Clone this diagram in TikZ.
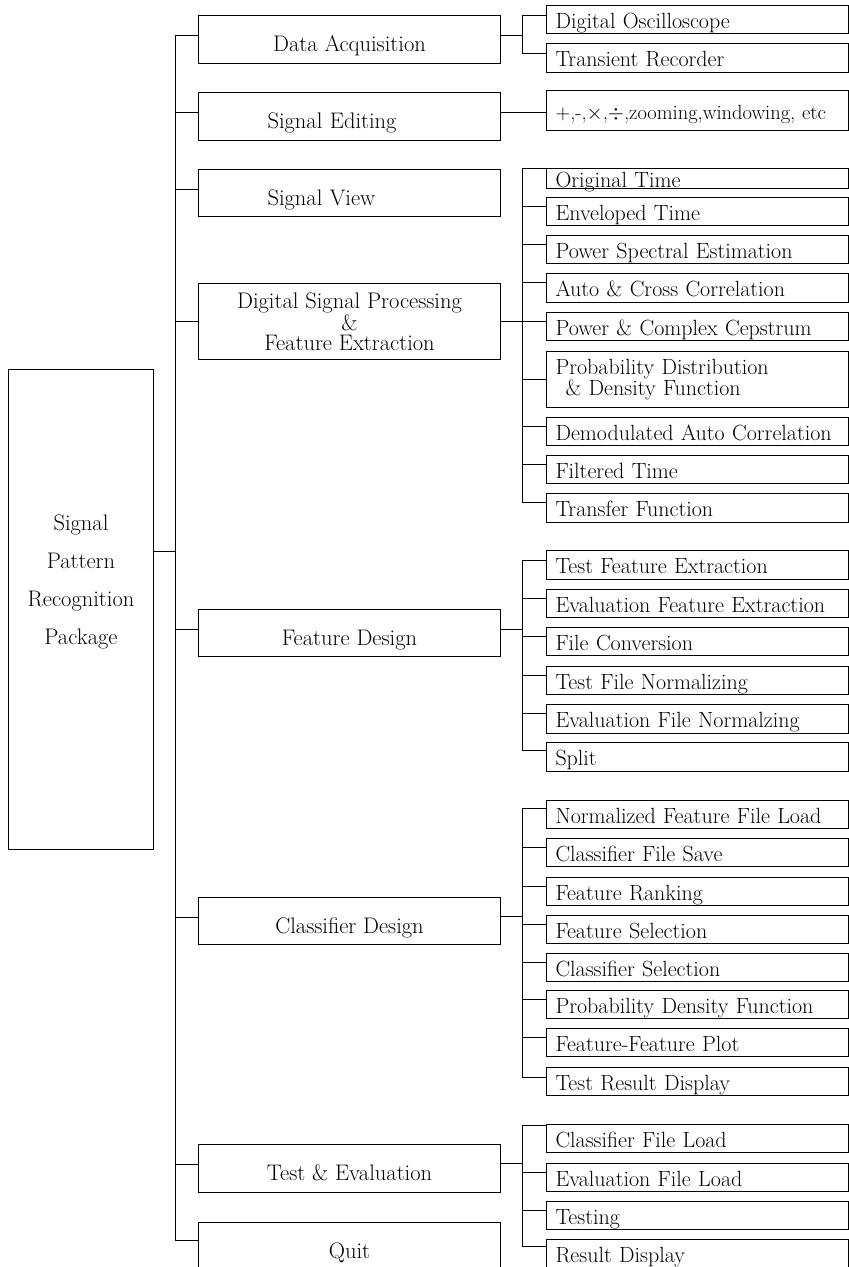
\documentclass[tikz,border=0pt]{standalone}
\usepackage{amsmath,amssymb}
\usepackage{tikz}

\begin{document}
\begin{tikzpicture}[x=1pt, y=-1pt, line width=1pt,
  every node/.style={font=\fontsize{22}{24}\selectfont},
  rootbox/.style={draw, anchor=north west, align=center,
                  minimum width=145pt, minimum height=480pt,
                  font=\fontsize{22.5}{38}\selectfont},
  menubox/.style={draw, anchor=north west, align=center,
                  minimum width=302pt, minimum height=48pt,
                  text height=24pt, text depth=0pt,
                  font=\fontsize{22.5}{24}\selectfont},
  leftmenu/.style={menubox, align=left, text width=164pt, inner xsep=69pt},
  leaf/.style={draw, anchor=north west, align=left,
               text width=284pt, inner xsep=9pt, inner ysep=0pt,
               minimum height=28pt, text height=18pt, text depth=1pt}
]
\useasboundingbox (0,0) rectangle (849,1267);

% package and main menu
\node[rootbox] (spr) at (8,369) {Signal\\Pattern\\Recognition\\Package\\[22pt]\mbox{}};
\node[menubox] (da) at (198,15)  {Data Acquisition};
\node[leftmenu] (se) at (198,92)  {Signal Editing};
\node[leftmenu, minimum height=47pt] (sv) at (198,169) {Signal View};
\node[draw, anchor=north west, align=center, minimum width=302pt,
      minimum height=76pt, font=\fontsize{22.5}{20}\selectfont] (dsp) at (198,283)
      {Digital Signal Processing\\\&\\Feature Extraction};
\node[menubox, minimum height=47pt] (fd) at (198,609) {Feature Design};
\node[menubox, minimum height=47pt] (cd) at (198,897) {Classifier Design};
\node[menubox] (te)   at (198,1144) {Test \& Evaluation};
\node[menubox] (quit) at (198,1222) {Quit};

% sub menus
\node[leaf] (osc) at (546,5)  {Digital Oscilloscope};
\node[leaf, minimum height=29pt] (rec) at (546,43) {Transient Recorder};
\node[leaf, minimum height=40pt, font=\fontsize{20.5}{22}\selectfont] (ops) at (546,90)
      {+,-,$\times$,$\div$,zooming,windowing, etc};

\node[leaf, minimum height=20pt] (orig) at (546,168) {Original Time};
\node[leaf] (env) at (546,197) {Enveloped Time};
\node[leaf] (pse) at (546,235) {Power Spectral Estimation};
\node[leaf, minimum height=29pt] (acc) at (546,273) {Auto \& Cross Correlation};
\node[leaf] (pcc) at (546,312) {Power \& Complex Cepstrum};
\node[draw, anchor=north west, align=left, text width=284pt, inner xsep=9pt,
      minimum height=56pt, font=\fontsize{22}{21}\selectfont] (pdf) at (546,351)
      {Probability Distribution\\\hspace*{10pt}\& Density Function};
\node[leaf] (dac) at (546,417) {Demodulated Auto Correlation};
\node[leaf] (flt) at (546,455) {Filtered Time};
\node[leaf, minimum height=29pt] (trf) at (546,493) {Transfer Function};

\node[leaf, minimum height=29pt] (tfe) at (546,550) {Test Feature Extraction};
\node[leaf] (efe) at (546,589) {Evaluation Feature Extraction};
\node[leaf] (fcv) at (546,627) {File Conversion};
\node[leaf] (tfn) at (546,666) {Test File Normalizing};
\node[leaf, minimum height=29pt] (efn) at (546,704) {Evaluation File Normalzing};
\node[leaf, minimum height=29pt] (spl) at (546,742) {Split};

\node[leaf] (nfl) at (546,800)  {Normalized Feature File Load};
\node[leaf] (cfs) at (546,838)  {Classifier File Save};
\node[leaf] (frk) at (546,877)  {Feature Ranking};
\node[leaf] (fsl) at (546,915)  {Feature Selection};
\node[leaf] (csl) at (546,953)  {Classifier Selection};
\node[leaf] (pdn) at (546,990)  {Probability Density Function};
\node[leaf] (ffp) at (546,1028) {Feature-Feature Plot};
\node[leaf] (trd) at (546,1067) {Test Result Display};

\node[leaf] (cfl) at (546,1124) {Classifier File Load};
\node[leaf] (efl) at (546,1163) {Evaluation File Load};
\node[leaf] (tst) at (546,1201) {Testing};
\node[leaf] (rsd) at (546,1239) {Result Display};

% trunk lines
\coordinate (trunk)  at (175,0);
\coordinate (branch) at (522,0);

\draw ([yshift=58pt]spr.east) -- ([yshift=58pt]spr.east -| trunk);
\draw ([yshift=4pt]da.west) -- ([yshift=4pt]da.west -| trunk) |- ([yshift=6pt]quit.west);
\foreach \m in {se,sv,fd,cd,te}
  \draw ([yshift=4pt]\m.west) -- ([yshift=4pt]\m.west -| trunk);
\draw (dsp.west) -- (dsp.west -| trunk);

% data acquisition
\draw ([yshift=4pt]da.east) -- ([yshift=4pt]da.east -| branch);
\draw ([yshift=-10pt]osc.north west) -- ([yshift=-10pt]osc.north west -| branch)
      |- ([yshift=-10pt]rec.north west);

% signal editing
\draw ([yshift=4pt]se.east) -- ([yshift=4pt]se.east -| ops.west);

% dsp
\draw (dsp.east) -- (dsp.east -| branch);
\draw (orig.north west) -- (orig.north west -| branch) |- ([yshift=-9pt]trf.north west);
\foreach \l in {env,pse,acc,pcc,dac,flt}
  \draw ([yshift=-9pt]\l.north west) -- ([yshift=-9pt]\l.north west -| branch);
\draw (pdf.west) -- (pdf.west -| branch);

% feature design
\draw ([yshift=4pt]fd.east) -- ([yshift=4pt]fd.east -| branch);
\draw ([yshift=-10pt]tfe.north west) -- ([yshift=-10pt]tfe.north west -| branch)
      |- ([yshift=-8pt]spl.north west);
\foreach \l in {efe,fcv,tfn,efn}
  \draw ([yshift=-9pt]\l.north west) -- ([yshift=-9pt]\l.north west -| branch);

% classifier design
\draw ([yshift=5pt]cd.east) -- ([yshift=5pt]cd.east -| branch);
\draw ([yshift=-8pt]nfl.north west) -- ([yshift=-8pt]nfl.north west -| branch)
      |- ([yshift=-10pt]trd.north west);
\foreach \l in {cfs,frk,fsl,csl,pdn,ffp}
  \draw ([yshift=-9pt]\l.north west) -- ([yshift=-9pt]\l.north west -| branch);

% test and evaluation
\draw ([yshift=5pt]te.east) -- ([yshift=5pt]te.east -| branch);
\draw ([yshift=-1pt]cfl.north west) -- ([yshift=-1pt]cfl.north west -| branch)
      |- ([yshift=-7pt]rsd.north west);
\foreach \l in {efl,tst}
  \draw ([yshift=-9pt]\l.north west) -- ([yshift=-9pt]\l.north west -| branch);
\end{tikzpicture}
\end{document}
